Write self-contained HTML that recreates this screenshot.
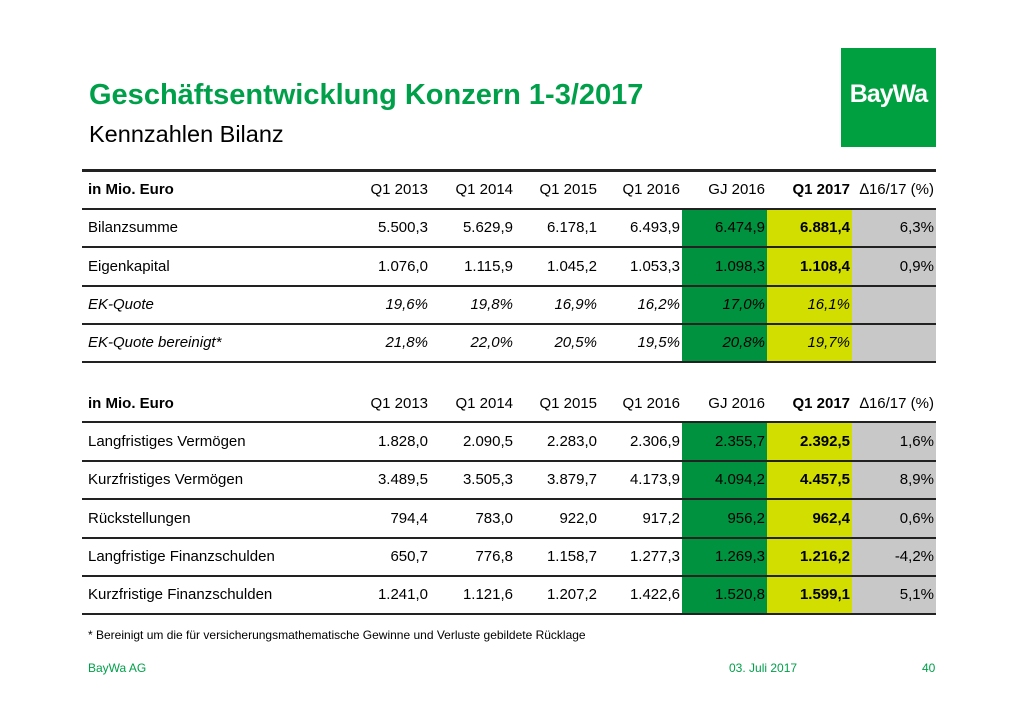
<!DOCTYPE html>
<html><head><meta charset="utf-8"><style>
body{margin:0;width:1024px;height:724px;background:#fff;position:relative;overflow:hidden;font-family:"Liberation Sans",Arial,sans-serif;color:#000}
.a{position:absolute}
.t{position:absolute;font-size:15px;line-height:18px;white-space:nowrap}
.r{text-align:right}
.line{position:absolute;left:82px;width:854px;background:#222}
.cell{position:absolute}
</style></head><body>
<div class="a" style="left:841px;top:48px;width:95px;height:99px;background:#00a040"></div>
<div class="a" style="left:841px;top:80px;width:95px;text-align:center;color:#fff;font-weight:bold;font-size:25px;letter-spacing:-1px">BayWa</div>
<div class="a" style="left:89px;top:79px;color:#00a04a;font-weight:bold;font-size:29px;">Geschäftsentwicklung Konzern 1-3/2017</div>
<div class="a" style="left:89px;top:121px;font-size:23.5px">Kennzahlen Bilanz</div>
<div id="tbl"></div>
<div class="a" style="left:88px;top:628px;font-size:12px">* Bereinigt um die für versicherungsmathematische Gewinne und Verluste gebildete Rücklage</div>
<div class="a" style="left:88px;top:661px;font-size:12px;color:#00a04a">BayWa AG</div>
<div class="a" style="left:729px;top:661px;font-size:12px;color:#00a04a">03. Juli 2017</div>
<div class="a" style="left:922px;top:661px;font-size:12px;color:#00a04a">40</div>
<script>
var cols=[[346,430],[430,515],[515,599],[599,682],[682,767],[767,852],[852,936]];
var h=document.getElementById('tbl'),s='';
function row(top,hgt,label,vals,opt){
 opt=opt||{};
 if(!opt.head){
  s+='<div class="cell" style="left:682px;top:'+top+'px;width:85px;height:'+hgt+'px;background:#00923f"></div>';
  s+='<div class="cell" style="left:767px;top:'+top+'px;width:85px;height:'+hgt+'px;background:#d2de00"></div>';
  s+='<div class="cell" style="left:852px;top:'+top+'px;width:84px;height:'+hgt+'px;background:#c8c8c8"></div>';
 }
 var ty=top+hgt/2-9;
 var st=opt.it?'font-style:italic;':'';
 s+='<div class="t" style="left:88px;top:'+ty+'px;'+st+(opt.head?'font-weight:bold;':'')+'">'+label+'</div>';
 for(var i=0;i<vals.length;i++){
  var c=cols[i],b=(i==5&&!opt.it)?'font-weight:bold;':'';
  s+='<div class="t r" style="left:'+(c[0]-40)+'px;width:'+(c[1]-c[0]+38)+'px;top:'+ty+'px;'+st+b+'">'+vals[i]+'</div>';
 }
}
function line(y,w){s+='<div class="line" style="top:'+y+'px;height:'+w+'px"></div>';}
var hd=['Q1 2013','Q1 2014','Q1 2015','Q1 2016','GJ 2016','Q1 2017','&#8710;16/17 (%)'];
row(171,38,'in Mio. Euro',hd,{head:1});
var r1=[['Bilanzsumme',['5.500,3','5.629,9','6.178,1','6.493,9','6.474,9','6.881,4','6,3%']],
['Eigenkapital',['1.076,0','1.115,9','1.045,2','1.053,3','1.098,3','1.108,4','0,9%']],
['EK-Quote',['19,6%','19,8%','16,9%','16,2%','17,0%','16,1%','']],
['EK-Quote bereinigt*',['21,8%','22,0%','20,5%','19,5%','20,8%','19,7%','']]];
var y=[209,247,286,324,362];
for(var k=0;k<4;k++){row(y[k],y[k+1]-y[k],r1[k][0],r1[k][1],{it:k>=2});}
for(k=0;k<5;k++)line(y[k]-1,2);
line(169,3);
row(385,37,'in Mio. Euro',hd,{head:1});
var r2=[['Langfristiges Vermögen',['1.828,0','2.090,5','2.283,0','2.306,9','2.355,7','2.392,5','1,6%']],
['Kurzfristiges Vermögen',['3.489,5','3.505,3','3.879,7','4.173,9','4.094,2','4.457,5','8,9%']],
['Rückstellungen',['794,4','783,0','922,0','917,2','956,2','962,4','0,6%']],
['Langfristige Finanzschulden',['650,7','776,8','1.158,7','1.277,3','1.269,3','1.216,2','-4,2%']],
['Kurzfristige Finanzschulden',['1.241,0','1.121,6','1.207,2','1.422,6','1.520,8','1.599,1','5,1%']]];
var y2=[422,461,499,538,576,614];
for(k=0;k<5;k++)row(y2[k],y2[k+1]-y2[k],r2[k][0],r2[k][1]);
for(k=0;k<6;k++)line(y2[k]-1,2);
h.innerHTML=s;
</script>
</body></html>
